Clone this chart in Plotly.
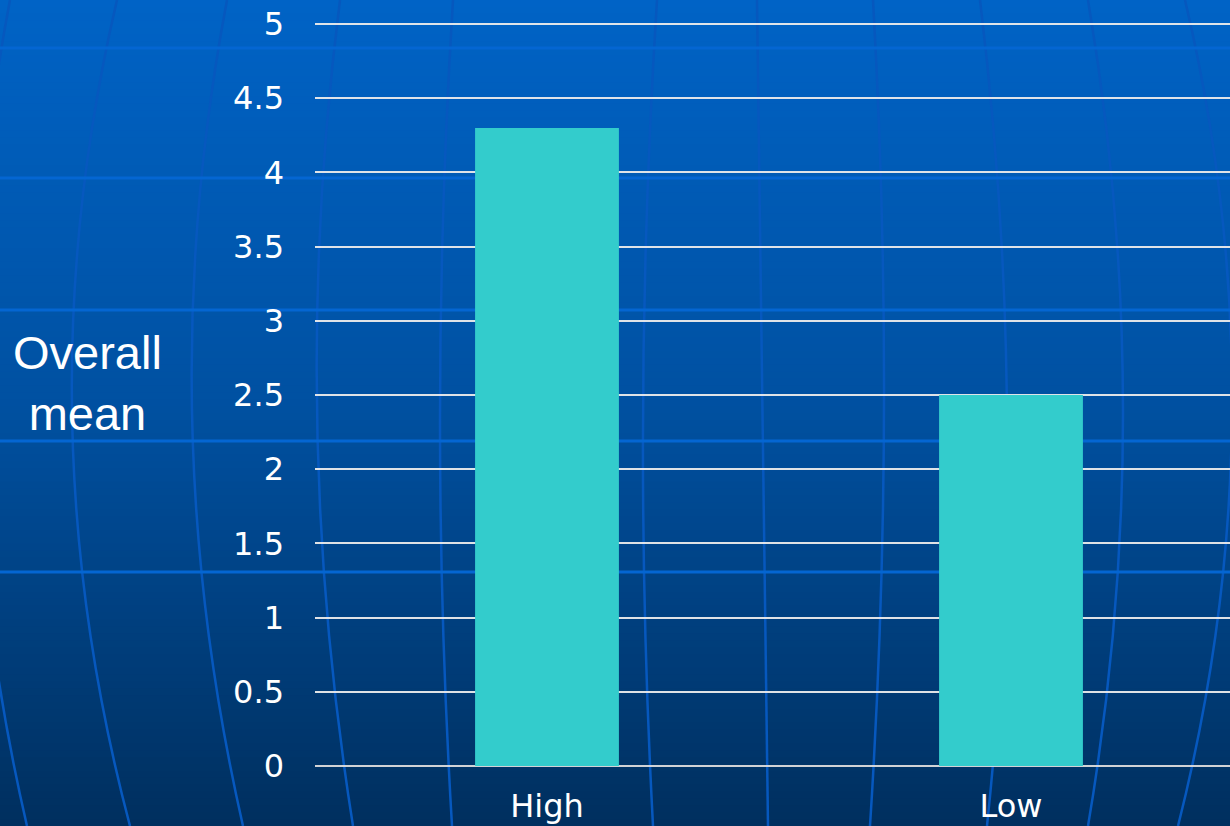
import plotly.graph_objects as go

# ---- data ----
categories = ["High", "Low"]
values = [4.3, 2.5]
y_ticks = [0, 0.5, 1, 1.5, 2, 2.5, 3, 3.5, 4, 4.5, 5]
y_tick_labels = ["0", "0.5", "1", "1.5", "2", "2.5", "3", "3.5", "4", "4.5", "5"]
y_title = "Overall<br>mean"

# ---- geometry (figure pixels) ----
W, H = 1230, 826
ML, MR, MT, MB = 315, 0, 21, 60
PW, PH = W - ML - MR, H - MT - MB
Y_MAX = 5 + 3 / 148.4


def px(x):
    return (x - ML) / PW


def py(y):
    return (H - MB - y) / PH


def lerp(a, b, t):
    return a + (b - a) * t


def grad_color(t):
    stops = [(0.0, (0, 99, 198)), (0.5, (0, 80, 160)), (1.0, (0, 47, 94))]
    for (t0, c0), (t1, c1) in zip(stops[:-1], stops[1:]):
        if t <= t1:
            f = (t - t0) / (t1 - t0)
            return "rgb(%d,%d,%d)" % tuple(round(lerp(c0[i], c1[i], f)) for i in range(3))
    return "rgb(%d,%d,%d)" % stops[-1][1]


shapes = []
N = 120
for i in range(N):
    y0 = H * i / N
    y1 = H * (i + 1) / N + 1
    shapes.append(dict(type="rect", xref="paper", yref="paper", layer="below",
                       x0=px(-5), x1=px(W + 5), y0=py(y0), y1=py(y1),
                       fillcolor=grad_color((i + 0.5) / N), line=dict(width=0)))

# decorative globe meridians (top, middle, bottom points in pixels)
meridians = [
    [(10, 0), (-25, 413), (27, 826)],
    [(117, 0), (72, 413), (130, 826)],
    [(227, 0), (192, 413), (243, 826)],
    [(340, 0), (317, 413), (353, 826)],
    [(453, 0), (440, 413), (452, 826)],
    [(657, 0), (643, 413), (653, 826)],
    [(757, 0), (762, 413), (768, 826)],
    [(873, 0), (884, 413), (870, 826)],
    [(980, 0), (1007, 413), (987, 826)],
    [(1088, 0), (1123, 413), (1088, 826)],
    [(1185, 0), (1232, 413), (1178, 826)],
]
for p0, pm, p2 in meridians:
    cx = 2 * pm[0] - 0.5 * (p0[0] + p2[0])
    cy = 2 * pm[1] - 0.5 * (p0[1] + p2[1])
    path = "M %f,%f Q %f,%f %f,%f" % (px(p0[0]), py(p0[1]), px(cx), py(cy), px(p2[0]), py(p2[1]))
    shapes.append(dict(type="path", xref="paper", yref="paper", layer="below", path=path,
                       line=dict(color="rgb(6,88,190)", width=2.5)))

# decorative globe latitude lines
for yy in [48, 178, 310, 441, 572]:
    shapes.append(dict(type="line", xref="paper", yref="paper", layer="below",
                       x0=px(0), x1=px(W), y0=py(yy), y1=py(yy),
                       line=dict(color="rgb(4,102,210)", width=3)))

fig = go.Figure(go.Bar(x=categories, y=values, marker=dict(color="#33CCCC", line=dict(width=0)),
                       hoverinfo="x+y"))

tick_font = dict(family="DejaVu Sans, Verdana, sans-serif", size=32, color="white")

fig.update_layout(
    width=W, height=H,
    margin=dict(l=ML, r=MR, t=MT, b=MB, pad=0),
    paper_bgcolor="rgb(0,80,160)",
    plot_bgcolor="rgba(0,0,0,0)",
    bargap=0.69,
    showlegend=False,
    shapes=shapes,
    font=dict(family="DejaVu Sans, sans-serif", color="white"),
    xaxis=dict(range=[-0.5, -0.5 + PW / 464], showgrid=False, zeroline=False, showline=False,
               ticks="", tickfont=tick_font, ticklabelstandoff=18, fixedrange=True),
    yaxis=dict(range=[0, Y_MAX], tickvals=y_ticks, ticktext=y_tick_labels, showgrid=True,
               gridcolor="rgba(235,235,235,0.95)", gridwidth=1.5, zeroline=True,
               zerolinecolor="rgba(220,220,220,0.95)", zerolinewidth=2, showline=False,
               ticks="", tickfont=tick_font, ticklabelstandoff=30, fixedrange=True),
    annotations=[dict(text=y_title, xref="paper", yref="paper", x=px(87), y=py(383),
                      xanchor="center", yanchor="middle", showarrow=False, align="center",
                      font=dict(family="Liberation Sans, Arial, sans-serif", size=47, color="white"))],
)

fig.write_html("out.html")
